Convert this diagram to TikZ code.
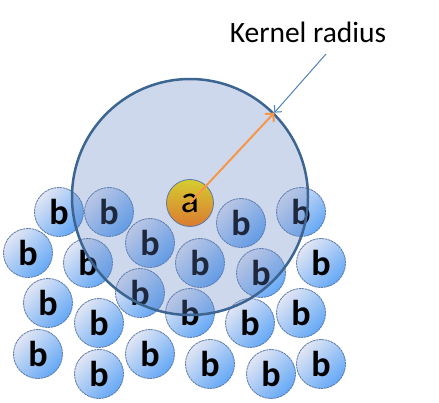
\documentclass[tikz,border=0pt]{standalone}
\usepackage{fontspec}
\setmainfont{Carlito}
\usetikzlibrary{arrows.meta}
\definecolor{blight}{RGB}{226,230,244}
\definecolor{bdark}{RGB}{100,168,246}
\definecolor{bedge}{RGB}{88,120,168}
\definecolor{kfill}{RGB}{97,129,194}
\definecolor{kedge}{RGB}{61,101,145}
\definecolor{ayellow}{RGB}{214,204,48}
\definecolor{aorange}{RGB}{218,122,48}
\definecolor{orangearrow}{RGB}{247,150,70}
\definecolor{bluearrow}{RGB}{79,129,189}
\tikzset{
  bcirc/.style={circle, minimum size=49pt, inner sep=0pt, draw=bedge, line width=0.8pt,
    dash pattern=on 2.5pt off 0.7pt,
    left color=blight, right color=bdark, shading angle=45,
    font=\fontsize{36}{36}\selectfont\bfseries},
  acirc/.style={circle, minimum size=47pt, inner sep=0pt, draw=bedge, line width=0.8pt,
    top color=ayellow, bottom color=aorange,
    font=\fontsize{38}{38}\selectfont},
  kcirc/.style={circle, minimum size=236pt, inner sep=0pt, draw=kedge, line width=2.5pt,
    fill=kfill, fill opacity=0.31, draw opacity=1},
  lbl/.style={font=\fontsize{29.5}{29.5}\selectfont, inner sep=0pt},
}
\begin{document}
\begin{tikzpicture}[x=1pt,y=-1pt]
\useasboundingbox (0,0) rectangle (439,403);
\foreach \n/\x/\y in {1/59/212, 2/109/212, 3/150/243, 4/241/223, 5/301/212,
  6/28/253, 7/88/263, 8/200/263, 9/261/273, 10/321/263,
  11/48/303, 12/140/293, 13/190/313, 14/99/323, 15/250/323, 16/301/313,
  17/38/354, 18/150/354, 19/99/374, 20/210/364, 21/271/374, 22/321/364}
  \node[bcirc] (b\n) at (\x,\y) {b};
\node[kcirc] (k) at (190,197) {};
\node[acirc] (a) at (190,203) {a};
\draw[orangearrow, line width=2pt, -{Straight Barb[length=6pt,width=12pt]}] (a.center) -- (k.45);
\coordinate (bs) at (326,54);
\draw[bluearrow, line width=1pt, -{Straight Barb[length=5pt,width=10pt]}] (bs) -- (k.45);
\node[lbl] (t) at (308,32) {Kernel radius};
\end{tikzpicture}
\end{document}
